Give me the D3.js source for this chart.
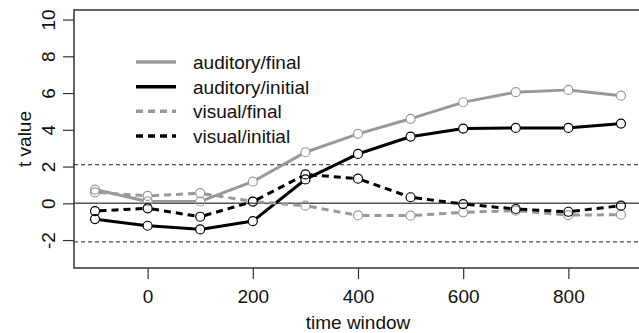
<!DOCTYPE html>
<html>
<head>
<meta charset="utf-8">
<script src="https://cdn.jsdelivr.net/npm/d3@7/dist/d3.min.js"></script>
<style>
  html, body { margin: 0; padding: 0; background: #fff; }
  svg { display: block; font-family: "Liberation Sans", Arial, sans-serif; }
</style>
</head>
<body>
<svg id="chart" width="639" height="333"></svg>
<script>
// time windows (ms) and t values per condition
const timeWindows = [-100, 0, 100, 200, 300, 400, 500, 600, 700, 800, 900];
const auditoryFinal   = [0.75, 0.10, 0.10, 1.18, 2.78, 3.78, 4.60, 5.50, 6.05, 6.17, 5.86];
const auditoryInitial = [-0.86, -1.22, -1.42, -0.97, 1.30, 2.69, 3.63, 4.07, 4.10, 4.10, 4.34];
const visualFinal     = [0.60, 0.40, 0.55, 0.10, -0.13, -0.66, -0.67, -0.49, -0.40, -0.64, -0.62];
const visualInitial   = [-0.42, -0.27, -0.73, 0.09, 1.57, 1.34, 0.33, -0.04, -0.31, -0.46, -0.13];
const seriesNames = ["auditory/final", "auditory/initial", "visual/final", "visual/initial"];
const xTicks = [0, 200, 400, 600, 800];
const yTicks = [-2, 0, 2, 4, 6, 8, 10];
const thresholds = [2.1, -2.1];

const series = [
  { name: seriesNames[0], values: auditoryFinal,   color: "#999999", dash: null },
  { name: seriesNames[1], values: auditoryInitial, color: "#000000", dash: null },
  { name: seriesNames[2], values: visualFinal,     color: "#999999", dash: "7,5" },
  { name: seriesNames[3], values: visualInitial,   color: "#000000", dash: "7,5" }
];

const svg = d3.select("#chart");
const plotLeft = 74, plotRight = 642, plotTop = 10, plotBottom = 268;

const x = d3.scaleLinear().domain([-140, 940]).range([plotLeft, plotRight]);
const y = d3.scaleLinear().domain([-3.52, 10.52]).range([plotBottom, plotTop]);

const axisColor = "#333";
const textColor = "#111";
const fontSize = 19;
const plainNumber = d => String(d);   // hyphen-minus for negatives

// reference lines
svg.append("line")
  .attr("x1", plotLeft).attr("x2", plotRight)
  .attr("y1", y(0)).attr("y2", y(0))
  .attr("stroke", "#555").attr("stroke-width", 1.5);

svg.selectAll("line.thr").data(thresholds).enter().append("line")
  .attr("class", "thr")
  .attr("x1", plotLeft).attr("x2", plotRight)
  .attr("y1", d => y(d)).attr("y2", d => y(d))
  .attr("stroke", "#222").attr("stroke-width", 1)
  .attr("stroke-dasharray", "4,3");

// series: segments stop short of each point marker
const r = 4.5;
series.forEach(s => {
  const pts = s.values.map((v, i) => [x(timeWindows[i]), y(v)]);
  const segs = [];
  for (let i = 0; i < pts.length - 1; i++) {
    const [x1, y1] = pts[i], [x2, y2] = pts[i + 1];
    const dx = x2 - x1, dy = y2 - y1, len = Math.hypot(dx, dy);
    if (len <= 2 * r) continue;
    const ux = dx / len, uy = dy / len;
    segs.push([x1 + ux * r, y1 + uy * r, x2 - ux * r, y2 - uy * r]);
  }
  const g = svg.append("g");
  g.selectAll("line").data(segs).enter().append("line")
    .attr("x1", d => d[0]).attr("y1", d => d[1])
    .attr("x2", d => d[2]).attr("y2", d => d[3])
    .attr("stroke", s.color).attr("stroke-width", 3)
    .attr("stroke-dasharray", s.dash);
  g.selectAll("circle").data(s.values).enter().append("circle")
    .attr("cx", (d, i) => x(timeWindows[i]))
    .attr("cy", d => y(d))
    .attr("r", r)
    .attr("fill", "none")
    .attr("stroke", s.color).attr("stroke-width", 1.2);
});

// plot frame
svg.append("rect")
  .attr("x", plotLeft).attr("y", plotTop)
  .attr("width", plotRight - plotLeft).attr("height", plotBottom - plotTop)
  .attr("fill", "none").attr("stroke", axisColor).attr("stroke-width", 1.5);

// x axis
const xAxis = svg.append("g").attr("transform", `translate(0,${plotBottom})`)
  .call(d3.axisBottom(x).tickValues(xTicks).tickSize(11).tickPadding(11).tickFormat(plainNumber));
xAxis.select(".domain").remove();
xAxis.selectAll("line").attr("stroke", axisColor).attr("stroke-width", 1.2);
xAxis.selectAll("text").attr("font-size", fontSize).attr("fill", textColor)
  .attr("font-family", "'Liberation Sans', Arial, sans-serif");

// y axis with labels parallel to the axis
const yAxis = svg.append("g").attr("transform", `translate(${plotLeft},0)`)
  .call(d3.axisLeft(y).tickValues(yTicks).tickSize(11).tickFormat(plainNumber));
yAxis.select(".domain").remove();
yAxis.selectAll("line").attr("stroke", axisColor).attr("stroke-width", 1.2);
yAxis.selectAll("text")
  .attr("font-size", fontSize).attr("fill", textColor)
  .attr("font-family", "'Liberation Sans', Arial, sans-serif")
  .attr("x", null)
  .attr("text-anchor", "middle")
  .attr("transform", "translate(-26,0) rotate(-90)")
  .attr("dy", "0.36em");

// axis titles
svg.append("text")
  .attr("x", (plotLeft + plotRight) / 2).attr("y", 329)
  .attr("text-anchor", "middle").attr("font-size", fontSize).attr("fill", textColor)
  .text("time window");
svg.append("text")
  .attr("transform", `translate(31,${(plotTop + plotBottom) / 2}) rotate(-90)`)
  .attr("text-anchor", "middle").attr("font-size", fontSize).attr("fill", textColor)
  .text("t value");

// legend
const legend = svg.append("g");
const rowY = d3.scaleLinear().domain([0, 3]).range([62, 136]);
series.forEach((s, i) => {
  legend.append("line")
    .attr("x1", 136).attr("x2", 176)
    .attr("y1", rowY(i)).attr("y2", rowY(i))
    .attr("stroke", s.color).attr("stroke-width", 3.5)
    .attr("stroke-dasharray", s.dash);
  legend.append("text")
    .attr("x", 193).attr("y", rowY(i)).attr("dy", "0.36em")
    .attr("font-size", fontSize).attr("fill", textColor)
    .text(s.name);
});
</script>
</body>
</html>
